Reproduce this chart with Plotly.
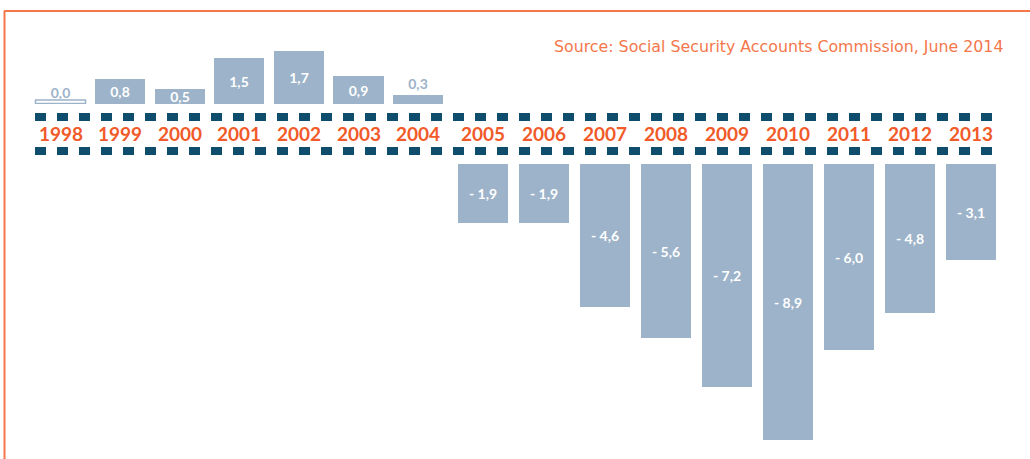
import plotly.graph_objects as go

# Social security balance by year (billions of euros)
years = ["1998", "1999", "2000", "2001", "2002", "2003", "2004", "2005",
         "2006", "2007", "2008", "2009", "2010", "2011", "2012", "2013"]
balance = [0.0, 0.8, 0.5, 1.5, 1.7, 0.9, 0.3, -1.9,
           -1.9, -4.6, -5.6, -7.2, -8.9, -6.0, -4.8, -3.1]
source_note = "Source: Social Security Accounts Commission, June 2014"

W, H = 1030, 459
BAR = "#9db3c9"
DASH = "#0e4d6b"
ORANGE = "#f15a29"
FRAME = "#f4774b"
FONT = "Lato"


def py(px):
    """Pixel row (from top) to paper coordinate."""
    return 1 - px / H


def fmt(v):
    s = f"{abs(v):.1f}".replace(".", ",")
    return f"- {s}" if v < 0 else s


surplus = [(y, v) for y, v in zip(years, balance) if v >= 0]
deficit = [(y, v) for y, v in zip(years, balance) if v < 0]

fig = go.Figure()


def add_group(rows, xa, ya, width):
    xs = [r[0] for r in rows]
    vs = [r[1] for r in rows]
    small = [abs(v) < 0.45 for v in vs]
    fig.add_trace(go.Bar(
        x=xs, y=vs, xaxis=xa, yaxis=ya, width=width,
        marker=dict(color=BAR, line=dict(width=0)),
        text=[fmt(v) for v in vs],
        textposition=["outside" if s else "inside" for s in small],
        insidetextanchor="middle",
        textangle=0,
        constraintext="none",
        cliponaxis=False,
        insidetextfont=dict(family=FONT, size=14, color="white", weight="bold"),
        outsidetextfont=dict(family=FONT, size=14, color=BAR, weight="bold"),
        hoverinfo="skip",
        showlegend=False,
    ))
    return xs, vs


W1, W2 = 0.84, 0.82
xs1, vs1 = add_group(surplus, "x", "y", W1)
xs2, vs2 = add_group(deficit, "x2", "y2", W2)

# zero-valued year: thin outlined placeholder
for i, v in enumerate(vs1):
    if v == 0:
        fig.add_shape(type="rect", xref="x", yref="y",
                      x0=i - W1 / 2, x1=i + W1 / 2,
                      ysizemode="pixel", yanchor=v, y0=0.5, y1=4,
                      line=dict(color=BAR, width=1.5), fillcolor="white")

# year labels between the two dotted rules (category index positions)
for xs, xr in ((xs1, "x"), (xs2, "x2")):
    for i, yr in enumerate(xs):
        fig.add_annotation(x=i, xref=xr, y=py(133), yref="paper",
                           xanchor="center", yanchor="middle",
                           text=yr, showarrow=False,
                           font=dict(family=FONT, size=19, color=ORANGE,
                                     weight="bold"))

# dotted rules
for row in (117, 151):
    fig.add_shape(type="line", xref="paper", yref="paper",
                  x0=35 / W, x1=997 / W, y0=py(row), y1=py(row),
                  line=dict(color=DASH, width=8, dash="11px,11px"))

# frame (top and left edges)
fig.add_shape(type="line", xref="paper", yref="paper",
              x0=4 / W, x1=1, y0=py(11), y1=py(11),
              line=dict(color=FRAME, width=2))
fig.add_shape(type="line", xref="paper", yref="paper",
              x0=4.5 / W, x1=4.5 / W, y0=py(11), y1=0,
              line=dict(color=FRAME, width=2))

fig.add_annotation(x=1005 / W, y=py(46), xref="paper", yref="paper",
                   xanchor="right", yanchor="middle", text=source_note,
                   showarrow=False,
                   font=dict(family="DejaVu Sans", size=15.8, color=FRAME))

# per-unit scale of ~31 px, baselines at rows 104 (surplus) and 164 (deficit)
PX = 31.0
c1, s1 = 60.5, 59.6
c2, s2 = 483.0, 61.0
hidden = dict(visible=False, showgrid=False, zeroline=False, fixedrange=True)
fig.update_layout(
    width=W, height=H,
    margin=dict(l=0, r=0, t=0, b=0),
    paper_bgcolor="white", plot_bgcolor="rgba(0,0,0,0)",
    bargap=0,
    xaxis=dict(hidden, type="category", domain=[0, 1], anchor="y",
               range=[-c1 / s1, (W - c1) / s1]),
    xaxis2=dict(hidden, type="category", domain=[0, 1], anchor="y2",
                range=[-c2 / s2, (W - c2) / s2]),
    yaxis=dict(hidden, domain=[py(104), py(30)], anchor="x",
               range=[0, (104 - 30) / PX]),
    yaxis2=dict(hidden, domain=[0, py(164)], anchor="x2",
                range=[-(H - 164) / PX, 0]),
)

fig.write_html("out.html")
